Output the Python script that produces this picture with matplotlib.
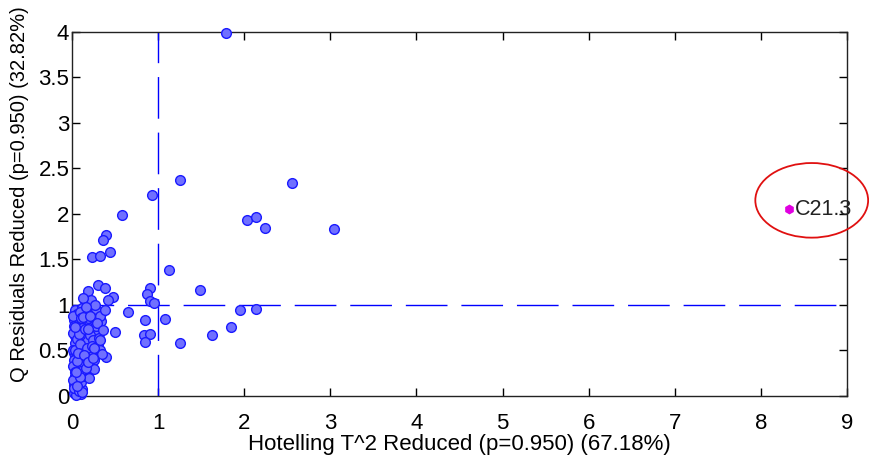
import matplotlib
matplotlib.use("Agg")
import matplotlib.pyplot as plt
from matplotlib.patches import Ellipse

plt.rcParams['font.family'] = ['Liberation Sans', 'DejaVu Sans']

# Hotelling T^2 (x) and Q residuals (y) for the calibration samples
t2_outer = [1.79, 1.25, 0.93, 0.58, 2.56, 2.03, 2.14, 2.24, 3.04,
            0.40, 0.36, 0.23, 0.32, 0.44, 1.13, 1.49,
            0.19, 0.30, 0.38, 0.91, 0.875, 0.91, 0.95,
            1.95, 2.14, 1.08, 1.25, 1.63, 1.85,
            0.65, 0.85, 0.50, 0.83, 0.91, 0.85, 0.48, 0.42]
q_outer = [3.99, 2.37, 2.21, 1.99, 2.34, 1.93, 1.97, 1.85, 1.84,
           1.77, 1.71, 1.53, 1.54, 1.58, 1.38, 1.16,
           1.15, 1.22, 1.19, 1.19, 1.12, 1.04, 1.02,
           0.95, 0.96, 0.85, 0.58, 0.67, 0.76,
           0.92, 0.83, 0.70, 0.67, 0.68, 0.59, 1.09, 1.05]

# dense group near the origin
t2_core = [0.15, 0.05, 0.25, 0.34, 0.34, 0.40, 0.29, 0.09,
           0.03, 0.06, 0.02, 0.07, 0.04, 0.03, 0.08, 0.05, 0.02, 0.07,
           0.04, 0.06, 0.03, 0.05, 0.02, 0.08, 0.04, 0.07, 0.02, 0.10,
           0.05, 0.12, 0.10,
           0.12, 0.17, 0.22, 0.28, 0.14, 0.20, 0.26, 0.12, 0.18, 0.23,
           0.15, 0.21, 0.27, 0.13, 0.19, 0.24, 0.16, 0.22, 0.12, 0.18,
           0.14, 0.20, 0.11, 0.26, 0.30, 0.33, 0.35, 0.30, 0.32, 0.38,
           0.22, 0.27, 0.13, 0.17, 0.25,
           0.01, 0.02, 0.01, 0.03, 0.01, 0.02, 0.01, 0.03, 0.01, 0.02,
           0.09, 0.10, 0.11, 0.09, 0.10, 0.09, 0.11, 0.10, 0.09, 0.08,
           0.06, 0.04, 0.08, 0.06, 0.03, 0.05, 0.09, 0.07, 0.12, 0.06,
           0.15, 0.17, 0.19, 0.16, 0.14, 0.18, 0.21, 0.24, 0.28, 0.23,
           0.31, 0.19, 0.16, 0.13, 0.26, 0.21, 0.29, 0.36, 0.24, 0.33]
q_core = [1.04, 0.93, 0.93, 0.91, 0.82, 0.43, 0.49, 0.10,
          0.95, 0.90, 0.84, 0.80, 0.73, 0.66, 0.60, 0.55, 0.47, 0.43,
          0.36, 0.30, 0.22, 0.16, 0.12, 0.13, 0.07, 0.05, 0.03, 0.02,
          0.01, 0.08, 0.15,
          0.97, 0.90, 0.94, 0.96, 0.82, 0.78, 0.84, 0.70, 0.65, 0.72,
          0.58, 0.55, 0.60, 0.50, 0.45, 0.48, 0.40, 0.36, 0.33, 0.28,
          0.22, 0.20, 0.40, 0.40, 0.55, 0.50, 0.46, 0.70, 0.88, 0.95,
          1.05, 1.00, 1.08, 0.62, 0.30,
          0.88, 0.77, 0.69, 0.58, 0.51, 0.40, 0.33, 0.26, 0.18, 0.09,
          0.92, 0.86, 0.75, 0.67, 0.52, 0.44, 0.35, 0.27, 0.21, 0.05,
          0.63, 0.51, 0.68, 0.39, 0.76, 0.26, 0.57, 0.47, 0.04, 0.11,
          0.74, 0.53, 0.86, 0.31, 0.45, 0.37, 0.67, 0.62, 0.77, 0.55,
          0.64, 0.74, 0.98, 0.87, 0.53, 0.88, 0.80, 0.73, 0.42, 0.62]

# test sample
outlier_name = "C21.3"
outlier_t2 = 8.33
outlier_q = 2.05

# 95% limits
t2_limit = 1.0
q_limit = 1.0

fig = plt.figure(figsize=(8.7, 4.57), dpi=100)
ax = fig.add_axes([0.0828, 0.1335, 0.8908, 0.7965])

ax.plot(t2_outer + t2_core, q_outer + q_core, 'o', ms=7,
        mfc='#7070ff', mec='#1a1aff', mew=1.0, zorder=3, clip_on=False)

ax.axvline(t2_limit, color='#0000ff', lw=1.0, dashes=(30, 10), zorder=2)
ax.axhline(q_limit, color='#0000ff', lw=1.0, dashes=(30, 10), zorder=2)

ax.plot([outlier_t2], [outlier_q], 'h', ms=6, color='#e000e0', zorder=4)
ax.text(outlier_t2 + 0.06, outlier_q, outlier_name, fontsize=15.5,
        va='center', ha='left', color='#222222')

circ = Ellipse((8.59, 2.15), 1.31, 0.82, fill=False, ec='#e01010',
               lw=1.3, clip_on=False, zorder=5)
ax.add_patch(circ)

ax.set_xlim(0, 9)
ax.set_ylim(0, 4)
ax.set_xticks(range(0, 10))
ax.set_yticks([0, 0.5, 1, 1.5, 2, 2.5, 3, 3.5, 4])
ax.set_yticklabels(['0', '0.5', '1', '1.5', '2', '2.5', '3', '3.5', '4'])
ax.tick_params(direction='in', length=6, width=1, labelsize=16,
               top=True, right=True, pad=2)
ax.tick_params(axis='x', pad=12)
for s in ax.spines.values():
    s.set_linewidth(1.0)
    s.set_color('#222222')

ax.set_xlabel("Hotelling T^2 Reduced (p=0.950) (67.18%)", fontsize=16, labelpad=0)
ax.set_ylabel("Q Residuals Reduced (p=0.950) (32.82%)", fontsize=14.5)
ax.yaxis.set_label_coords(-0.056, 0.555)

fig.savefig("out.png", dpi=100, facecolor='white')
